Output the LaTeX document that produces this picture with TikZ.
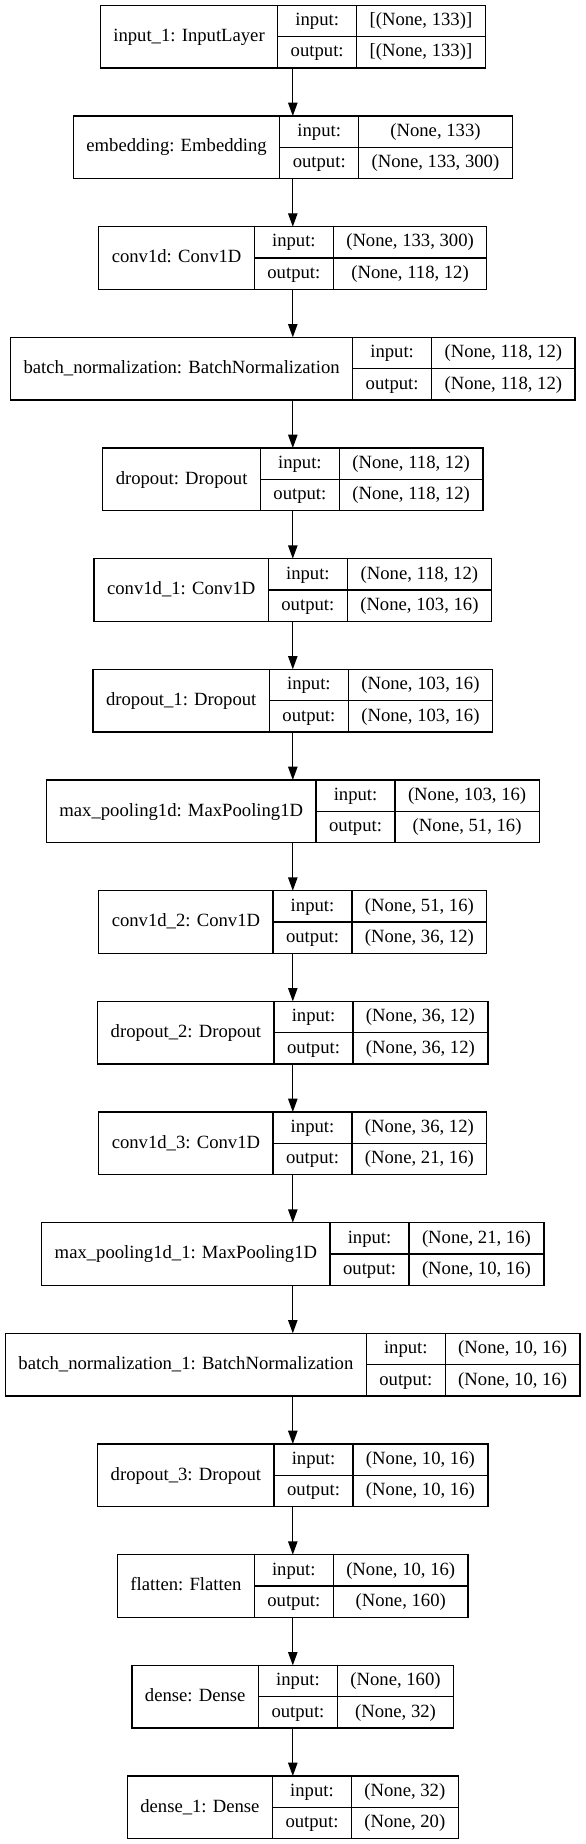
\documentclass[tikz,border=0pt]{standalone}
\usepackage{fontspec}
\setmainfont{Liberation Serif}
\usetikzlibrary{arrows.meta}
\newsavebox\mesbox
\newcommand\lfont{\normalfont\fontsize{14}{16}\selectfont}
\newcommand\cx{219.6}
\newcommand\padx{9.75}
\makeatletter
\newcommand\measure[5]{% key, row, label, in, out
  \sbox\mesbox{\lfont #3}\edef\tmpA{\strip@pt\wd\mesbox}%
  \sbox\mesbox{\lfont output:}\edef\tmpB{\strip@pt\wd\mesbox}%
  \sbox\mesbox{\lfont #4}\edef\tmpC{\strip@pt\wd\mesbox}%
  \sbox\mesbox{\lfont #5}\edef\tmpD{\strip@pt\wd\mesbox}%
  \pgfmathsetmacro\cA{\tmpA+2*\padx}%
  \pgfmathsetmacro\cB{\tmpB+2*\padx}%
  \pgfmathsetmacro\cC{max(\tmpC,\tmpD)+2*\padx}%
  \expandafter\xdef\csname mA#1\endcsname{\cA}%
  \expandafter\xdef\csname mB#1\endcsname{\cB}%
  \expandafter\xdef\csname mC#1\endcsname{\cC}%
}
\newcommand\getw[1]{%
  \edef\cA{\csname mA#1\endcsname}%
  \edef\cB{\csname mB#1\endcsname}%
  \edef\cC{\csname mC#1\endcsname}%
}
\makeatother
\tikzset{
  box/.style={draw=black, line width=1pt, rectangle, inner sep=0pt, outer sep=0pt, minimum height=47pt},
  txt/.style={font=\lfont, inner sep=0pt, anchor=center, text height=10pt, text depth=3pt},
  sep/.style={draw=black, line width=1pt},
  arr/.style={draw=black, line width=1pt, -{Triangle[length=10pt, width=7pt]}}
}
\newcommand\layer[5]{%
  \getw{#1}%
  \pgfmathsetmacro\cW{\cA+\cB+\cC}%
  \pgfmathsetmacro\cL{\cx-\cW/2}%
  \pgfmathsetmacro\cT{4+83*#2}%
  \node[box, minimum width=\cW pt, anchor=north west] (#1) at (\cL,\cT) {};
  \draw[sep] (\cL+\cA,\cT) -- (\cL+\cA,\cT+47);
  \draw[sep] (\cL+\cA+\cB,\cT) -- (\cL+\cA+\cB,\cT+47);
  \draw[sep] (\cL+\cA,\cT+23.5) -- (\cL+\cW,\cT+23.5);
  \node[txt] (#1-name) at (\cL+\cA/2,\cT+23.5) {#3};
  \node[txt] (#1-il) at (\cL+\cA+\cB/2,\cT+11.75) {input:};
  \node[txt] (#1-ol) at (\cL+\cA+\cB/2,\cT+35.25) {output:};
  \node[txt] (#1-is) at (\cL+\cA+\cB+\cC/2,\cT+11.75) {#4};
  \node[txt] (#1-os) at (\cL+\cA+\cB+\cC/2,\cT+35.25) {#5};
}
\newcommand\alllayers[1]{%
#1{l0}{0}{input\_1: InputLayer}{[(None, 133)]}{[(None, 133)]}
#1{l1}{1}{embedding: Embedding}{(None, 133)}{(None, 133, 300)}
#1{l2}{2}{conv1d: Conv1D}{(None, 133, 300)}{(None, 118, 12)}
#1{l3}{3}{batch\_normalization: BatchNormalization}{(None, 118, 12)}{(None, 118, 12)}
#1{l4}{4}{dropout: Dropout}{(None, 118, 12)}{(None, 118, 12)}
#1{l5}{5}{conv1d\_1: Conv1D}{(None, 118, 12)}{(None, 103, 16)}
#1{l6}{6}{dropout\_1: Dropout}{(None, 103, 16)}{(None, 103, 16)}
#1{l7}{7}{max\_pooling1d: MaxPooling1D}{(None, 103, 16)}{(None, 51, 16)}
#1{l8}{8}{conv1d\_2: Conv1D}{(None, 51, 16)}{(None, 36, 12)}
#1{l9}{9}{dropout\_2: Dropout}{(None, 36, 12)}{(None, 36, 12)}
#1{l10}{10}{conv1d\_3: Conv1D}{(None, 36, 12)}{(None, 21, 16)}
#1{l11}{11}{max\_pooling1d\_1: MaxPooling1D}{(None, 21, 16)}{(None, 10, 16)}
#1{l12}{12}{batch\_normalization\_1: BatchNormalization}{(None, 10, 16)}{(None, 10, 16)}
#1{l13}{13}{dropout\_3: Dropout}{(None, 10, 16)}{(None, 10, 16)}
#1{l14}{14}{flatten: Flatten}{(None, 10, 16)}{(None, 160)}
#1{l15}{15}{dense: Dense}{(None, 160)}{(None, 32)}
#1{l16}{16}{dense\_1: Dense}{(None, 32)}{(None, 20)}
}
\begin{document}
\alllayers\measure
\begin{tikzpicture}[x=1pt,y=-1pt]
\useasboundingbox (0,0) rectangle (438.75,1383);
\alllayers\layer
\foreach \a/\b in {l0/l1,l1/l2,l2/l3,l3/l4,l4/l5,l5/l6,l6/l7,l7/l8,l8/l9,l9/l10,l10/l11,l11/l12,l12/l13,l13/l14,l14/l15,l15/l16}
  \draw[arr] (\a.south) -- (\b.north);
\end{tikzpicture}
\end{document}
